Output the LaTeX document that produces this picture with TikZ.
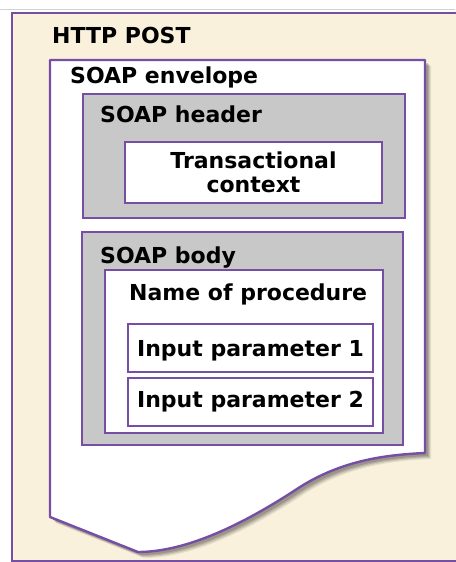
\documentclass[tikz,border=0pt]{standalone}
\usepackage{fontspec}
\setmainfont{DejaVu Sans}
\usetikzlibrary{positioning}
\definecolor{boxpurple}{RGB}{118,78,164}
\definecolor{cream}{RGB}{250,241,221}
\definecolor{hdrgray}{RGB}{200,200,200}

\begin{document}
\begin{tikzpicture}[x=1pt,y=-1pt,
    box/.style={draw=boxpurple,line width=2.4pt,rectangle,inner sep=0pt,outer sep=0pt,anchor=north west},
    lbl/.style={anchor=base west,inner sep=0pt,font=\fontsize{22}{24}\selectfont\bfseries},
    txt/.style={font=\fontsize{22}{24}\selectfont\bfseries,align=center}]
  \useasboundingbox (0,0) rectangle (455,562);
  \draw [gray!35,line width=0.8pt] (0,9) -- (455,9);
  % outer HTTP message
  \node [box,fill=cream,line width=2pt,minimum width=446pt,minimum height=548pt] (http) at (12,13) {};
  \node [lbl] (httplbl) at (52,43) {HTTP POST};
  % envelope sheet with torn bottom
  \foreach \s/\o in {6/0.08,5/0.1,4/0.12,3/0.14}
    \fill [black,opacity=\o,xshift=\s pt,yshift=-\s pt]
      (50,60) -- (425,60) -- (425,453) .. controls (380,455) and (340,462) .. (300,487)
      .. controls (250,520) and (190,552) .. (138,552) -- (50,517) -- cycle;
  \draw [boxpurple,fill=white,line width=2.4pt,line join=round]
    (50,60) -- (425,60) -- (425,453) .. controls (380,455) and (340,462) .. (300,487)
    .. controls (250,520) and (190,552) .. (138,552) -- (50,517) -- cycle;
  \node [lbl] (envlbl) at (70,83) {SOAP envelope};
  % header
  \node [box,fill=hdrgray,minimum width=322pt,minimum height=124pt] (header) at (83,94) {};
  \node [lbl] (headerlbl) at (100,122) {SOAP header};
  \node [box,fill=white,txt,minimum width=257pt,minimum height=61pt] (trans) at (125,142) {Transactional\\context};
  % body
  \node [box,fill=hdrgray,minimum width=321pt,minimum height=213pt] (body) at (82,232) {};
  \node [lbl] (bodylbl) at (100,263) {SOAP body};
  \node [box,fill=white,minimum width=278pt,minimum height=163pt] (proc) at (105,270) {};
  \node [lbl] (proclbl) at (129,300) {Name of procedure};
  \node [box,fill=white,txt,text height=16pt,text depth=0pt,minimum width=245pt,minimum height=48pt] (inone) at (128,324) {Input parameter 1};
  \node [box,fill=white,txt,minimum width=245pt,minimum height=48pt,below=6pt of inone.south west,anchor=north west] (intwo) {Input parameter 2};
\end{tikzpicture}
\end{document}
